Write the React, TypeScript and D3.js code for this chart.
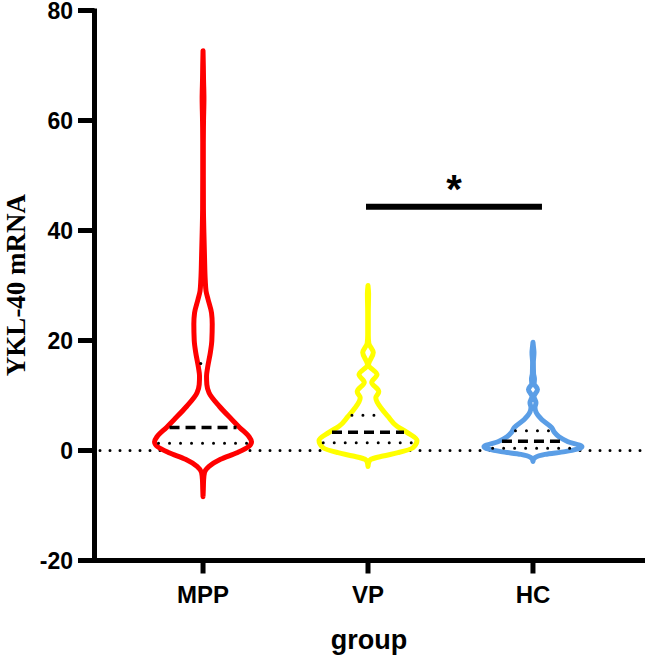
import React from "react";
import * as d3 from "d3";

// ---------------- data ----------------
const categories = ["MPP", "VP", "HC"];
const yTicks = [-20, 0, 20, 40, 60, 80];

// violin outlines: value -> relative density (half width units)
const mppValues = [-8.4, -7, -5.3, -4, -2.9, -1.6, -0.4, 0.7, 1.6, 2.5, 4.2, 5.6, 8, 10.5, 12, 13.5, 15, 17.8, 20, 23, 25, 27.5, 29, 31, 35, 40, 44, 50, 56, 60, 64, 67.5, 70, 72.7];
const mppDensity = [0, 0.3, 0.6, 1.5, 6, 17.5, 34, 45.5, 48.5, 46, 36.5, 29, 16.5, 6, 3.8, 3.5, 4.5, 7.3, 8.8, 9.2, 8.5, 5, 3, 2.2, 1.5, 0.8, 0.4, 0.3, 0.3, 0.5, 0.9, 0.5, 0.3, 0];

const vpValues = [-2.9, -2, -1.6, -1, -0.4, 0.5, 1.8, 3.3, 4.4, 6.2, 7.5, 9.6, 10.7, 12.4, 13.8, 15.6, 17.8, 19.5, 21, 25, 28.5, 30];
const vpDensity = [0, 1, 3, 15, 30, 45, 49, 39, 29, 20, 14, 7.8, 10.8, 3.7, 9, 0.5, 5.3, 0.8, 0.3, 0.3, 0.6, 0];

const hcValues = [-2, -1.5, -1.3, -0.7, -0.2, 0.7, 1.6, 2.5, 3.3, 4.2, 5.6, 7, 7.8, 8.7, 9.8, 11.1, 12.2, 13, 14, 16, 17.8, 19, 19.7];
const hcDensity = [0, 0.8, 2, 12, 32, 49, 35, 26, 21.5, 18.5, 9, 3, 2, 3, 1, 4.5, 1.2, 1.5, 0.6, 0.4, 1, 0.4, 0];

const medians = [4.2, 3.3, 1.7];
const lowerQuartiles = [1.3, 1.4, 0.4];
const upperQuartiles = [15.8, 6.4, 3.6];

const sigPair = ["VP", "HC"];
const sigValue = 44.3;
const sigLabel = "*";

// ---------------- styles ----------------
const W = 649;
const H = 660;
const colors: Record<string, string> = { MPP: "#ff0000", VP: "#ffff00", HC: "#5b9ee6" };
const sansBold = "'Liberation Sans', Arial, sans-serif";
const serif = "'Liberation Serif', 'Times New Roman', serif";

export default function App() {
  const y = d3.scaleLinear().domain([-20, 80]).range([560.5, 10.5]);
  const x = d3.scalePoint<string>().domain(categories).range([93, 643]).padding(0.667);
  const w = d3.scaleLinear().domain([0, 49]).range([0, 49]);

  const profiles = [
    { values: mppValues, density: mppDensity },
    { values: vpValues, density: vpDensity },
    { values: hcValues, density: hcDensity },
  ];

  const axisX = 94.5;

  const violinPath = (cat: string, values: number[], density: number[]) => {
    const cx = x(cat) as number;
    const pts = values.map((v, i) => ({ v, d: density[i] }));
    const right = d3
      .line<{ v: number; d: number }>()
      .x((p) => cx + w(p.d))
      .y((p) => y(p.v))
      .curve(d3.curveMonotoneY)(pts) as string;
    const left = d3
      .line<{ v: number; d: number }>()
      .x((p) => cx - w(p.d))
      .y((p) => y(p.v))
      .curve(d3.curveMonotoneY)(pts.slice().reverse()) as string;
    return right + left.replace(/^M/, "L") + "Z";
  };

  const halfAt = (i: number, v: number) => {
    const p = profiles[i];
    const interp = d3.scaleLinear().domain(p.values).range(p.density);
    return Math.max(0, w(interp(v)) - 3);
  };

  const sigX1 = (x(sigPair[0]) as number) - 2;
  const sigX2 = (x(sigPair[1]) as number) + 9;

  return (
    <svg width={W} height={H} style={{ position: "absolute", left: 0, top: 0, background: "#fff" }}>
      <rect width={W} height={H} fill="#fff" />
      {/* zero reference line */}
      <line
        x1={100}
        x2={645}
        y1={y(0)}
        y2={y(0)}
        stroke="#000"
        strokeWidth={3}
        strokeDasharray="0 10"
        strokeLinecap="round"
      />
      {/* violins */}
      {categories.map((c, i) => (
        <path
          key={c}
          d={violinPath(c, profiles[i].values, profiles[i].density)}
          fill="#fff"
          stroke={colors[c]}
          strokeWidth={5}
          strokeLinejoin="round"
        />
      ))}
      {/* quartiles & medians */}
      {categories.map((c, i) => {
        const cx = x(c) as number;
        const hm = halfAt(i, medians[i]);
        const hq1 = halfAt(i, lowerQuartiles[i]);
        const hq3 = halfAt(i, upperQuartiles[i]);
        return (
          <g key={c + "q"}>
            <line x1={cx - hm} x2={cx + hm} y1={y(medians[i])} y2={y(medians[i])} stroke="#000" strokeWidth={3.5} strokeDasharray="10 6" />
            <line x1={cx - hq1} x2={cx + hq1} y1={y(lowerQuartiles[i])} y2={y(lowerQuartiles[i])} stroke="#000" strokeWidth={3} strokeDasharray="0 11" strokeLinecap="round" />
            <line x1={cx - hq3} x2={cx + hq3} y1={y(upperQuartiles[i])} y2={y(upperQuartiles[i])} stroke="#000" strokeWidth={3} strokeDasharray="0 11" strokeLinecap="round" />
          </g>
        );
      })}
      {/* significance */}
      <line x1={sigX1} x2={sigX2} y1={y(sigValue)} y2={y(sigValue)} stroke="#000" strokeWidth={6} />
      <text x={(sigX1 + sigX2) / 2} y={y(sigValue) - 4} textAnchor="middle" fontFamily={sansBold} fontWeight="bold" fontSize={40}>
        {sigLabel}
      </text>
      {/* y axis */}
      <line x1={axisX} x2={axisX} y1={y(80) - 2} y2={y(-20) + 2.5} stroke="#000" strokeWidth={5} />
      {yTicks.map((t) => (
        <g key={t}>
          <line x1={78} x2={axisX} y1={y(t)} y2={y(t)} stroke="#000" strokeWidth={5} />
          <text x={73} y={y(t)} dy="0.36em" textAnchor="end" fontFamily={sansBold} fontWeight="bold" fontSize={23}>
            {t}
          </text>
        </g>
      ))}
      {/* x axis */}
      <line x1={axisX - 2.5} x2={645} y1={y(-20)} y2={y(-20)} stroke="#000" strokeWidth={5} />
      {categories.map((c) => (
        <g key={c}>
          <line x1={x(c)} x2={x(c)} y1={y(-20)} y2={y(-20) + 13} stroke="#000" strokeWidth={5} />
          <text x={x(c)} y={603} textAnchor="middle" fontFamily={sansBold} fontWeight="bold" fontSize={24}>
            {c}
          </text>
        </g>
      ))}
      <text x={369} y={649} textAnchor="middle" fontFamily={sansBold} fontWeight="bold" fontSize={27}>
        group
      </text>
      <text transform="translate(25,285) rotate(-90)" textAnchor="middle" fontFamily={serif} fontWeight="bold" fontSize={27}>
        YKL-40 mRNA
      </text>
    </svg>
  );
}
